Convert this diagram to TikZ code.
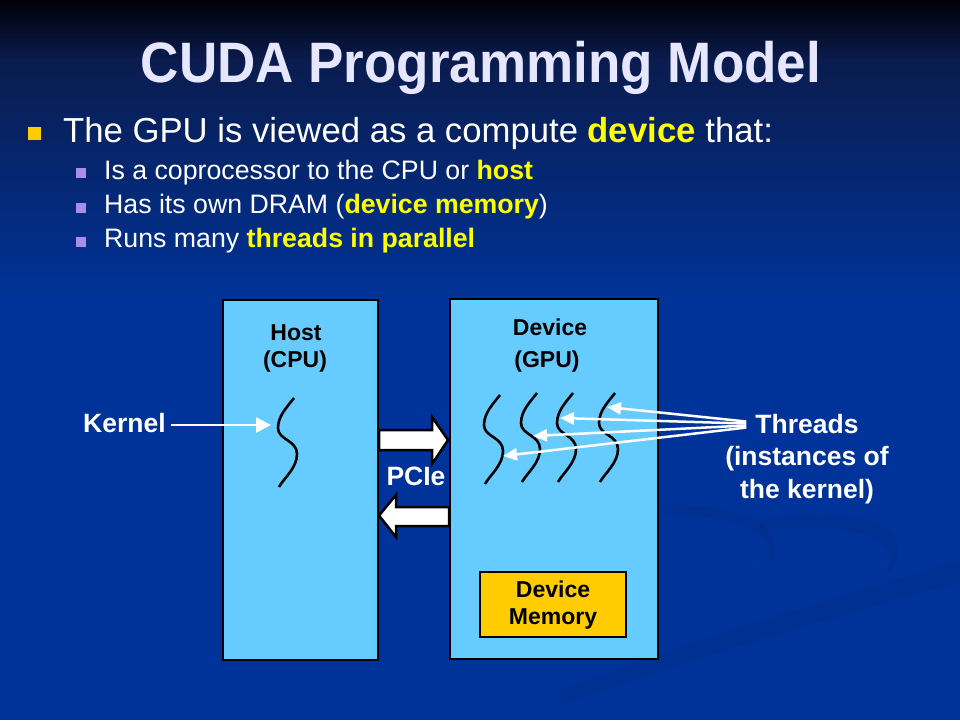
\documentclass[tikz,border=0pt]{standalone}
\usepackage{fontspec}
\setmainfont{Liberation Sans}
\usetikzlibrary{arrows.meta}
\definecolor{boxblue}{HTML}{66CCFF}
\definecolor{memyellow}{HTML}{FFCC00}
\definecolor{titlecol}{HTML}{E6E6FF}
\definecolor{hl}{HTML}{FFFF00}
\definecolor{subbul}{HTML}{A88EE6}
\definecolor{bgtop}{HTML}{000008}
\definecolor{bgmid}{HTML}{0A1C4E}
\definecolor{bgbot}{HTML}{003399}
\begin{document}
\begin{tikzpicture}[x=1pt,y=-1pt,
  txt/.style={inner sep=0pt, anchor=base west},
  ctxt/.style={inner sep=0pt, anchor=base},
  bigfont/.style={font=\fontsize{34.7}{40}\selectfont},
  subfont/.style={font=\fontsize{26.7}{32}\selectfont},
  lblfont/.style={font=\bfseries\fontsize{26.5}{32}\selectfont, text=white},
  boxfont/.style={font=\bfseries\fontsize{23}{28}\selectfont, text=black},
  bigbox/.style={draw=black, fill=boxblue, line width=2.5pt, inner sep=0pt},
  membox/.style={draw=black, fill=memyellow, line width=2pt, inner sep=0pt},
  bulA/.style={fill=memyellow, inner sep=0pt, minimum size=13pt},
  bulB/.style={fill=subbul, inner sep=0pt, minimum size=10pt},
  threadline/.style={draw=black, line width=2.6pt},
  whitearrow/.style={draw=white, line width=2.5pt, -{Triangle[length=15pt,width=15pt]}},
  fanarrow/.style={draw=white, line width=2.5pt, -{Triangle[length=14pt,width=12pt]}},
  blockarrow/.style={fill=white, draw=black, line width=2.5pt, line join=miter},
  swoosh/.style={fill=black, opacity=0.05},
  thread/.pic={\draw[threadline] (0,0) .. controls (-7,9) and (-16,18) .. (-16,30)
      .. controls (-16,42) and (3,42) .. (3,56)
      .. controls (3,70) and (-10,80) .. (-15,89);}
]
\useasboundingbox (0,0) rectangle (960,720);
% background
\shade[top color=bgtop, bottom color=bgmid] (0,0) rectangle (960,61);
\shade[top color=bgmid, bottom color=bgbot] (0,60) rectangle (960,301);
\fill[bgbot] (0,300) rectangle (960,720);
\fill[swoosh] (560,690) .. controls (720,630) and (860,590) .. (960,560) -- (960,582) .. controls (860,610) and (720,650) .. (560,705) -- cycle;
\fill[swoosh] (660,505) .. controls (760,500) and (800,540) .. (760,575) .. controls (790,540) and (750,515) .. (660,515) -- cycle;
\fill[swoosh] (760,520) .. controls (880,500) and (930,540) .. (880,580) .. controls (910,545) and (870,520) .. (760,530) -- cycle;

% title
\node[ctxt, text=titlecol, font=\bfseries\fontsize{57}{64}\selectfont] (title) at (481,82) {\scalebox{0.93}[1]{CUDA Programming Model}};

% bullets
\node[bulA] (b0) at (34.5,133.5) {};
\node[txt, bigfont, text=white] (l0) at (63,142) {The GPU is viewed as a compute \textbf{\color{hl}device} that:};
\node[bulB] (b1) at (81,173) {};
\node[txt, subfont, text=white] (l1) at (104,179) {Is a coprocessor to the CPU or \textbf{\color{hl}host}};
\node[bulB] (b2) at (81,207.5) {};
\node[txt, subfont, text=white] (l2) at (104,213) {Has its own DRAM (\textbf{\color{hl}device memory})};
\node[bulB] (b3) at (81,242) {};
\node[txt, subfont, text=white] (l3) at (104,247) {Runs many \textbf{\color{hl}threads in parallel}};

% boxes
\node[bigbox, minimum width=155pt, minimum height=360pt] (host) at (300.5,480) {};
\node[bigbox, minimum width=208pt, minimum height=360pt] (dev) at (554,479) {};
\node[membox, minimum width=146pt, minimum height=65pt] (mem) at (553,604.5) {};

\node[ctxt, boxfont] (hostl1) at (296,340) {Host};
\node[ctxt, boxfont] (hostl2) at (295,367) {(CPU)};
\node[ctxt, boxfont] (devl1) at (550,335) {Device};
\node[ctxt, boxfont] (devl2) at (547,367) {(GPU)};
\node[ctxt, boxfont] (meml1) at (553,597) {Device};
\node[ctxt, boxfont] (meml2) at (553,624) {Memory};

% threads
\pic at (294,398) {thread};
\pic at (500,395) {thread};
\pic at (537,393) {thread};
\pic at (573,393) {thread};
\pic at (615,393) {thread};

% PCIe block arrows
\draw[blockarrow] (379,430) -- (432,430) -- (432,417) -- (448,440) -- (432,464) -- (432,450) -- (379,450) -- cycle;
\draw[blockarrow] (449,507) -- (396,507) -- (396,495) -- (379,515.5) -- (396,537) -- (396,526) -- (449,526) -- cycle;
\node[ctxt, lblfont] (pcie) at (416,485) {PCIe};

% Kernel label and arrow
\node[txt, lblfont] (kernel) at (83,432) {Kernel};
\coordinate (kt) at (271,425);
\draw[whitearrow] ([xshift=5pt]kernel.east |- kt) -- (kt);

% Threads label and arrows
\node[ctxt, lblfont] (thr1) at (807,433) {Threads};
\node[ctxt, lblfont] (thr2) at (807,465) {(instances of};
\node[ctxt, lblfont] (thr3) at (807,498) {the kernel)};
\coordinate (f4) at ([xshift=-9pt,yshift=2pt]thr1.west);
\coordinate (f3) at ([xshift=-9pt,yshift=0pt]thr1.west);
\coordinate (f2) at ([xshift=-9pt,yshift=-2pt]thr1.west);
\coordinate (f1) at ([xshift=-9pt,yshift=-4pt]thr1.west);
\coordinate (t4) at (607,407);
\coordinate (t3) at (560,418);
\coordinate (t2) at (533,436);
\coordinate (t1) at (503,456);
\draw[fanarrow] (f4) -- (t4);
\draw[fanarrow] (f3) -- (t3);
\draw[fanarrow] (f2) -- (t2);
\draw[fanarrow] (f1) -- (t1);
\end{tikzpicture}
\end{document}
